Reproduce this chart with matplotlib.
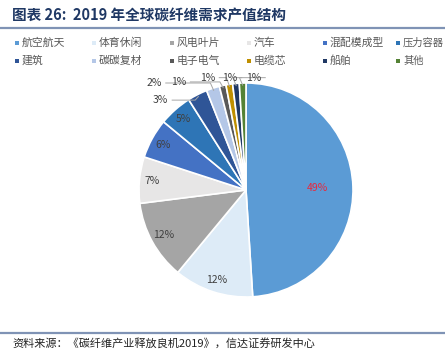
import numpy as np
import matplotlib
matplotlib.use('Agg')
import matplotlib.pyplot as plt
from matplotlib.patches import Rectangle

plt.rcParams['font.family'] = ['Noto Sans CJK SC', 'DejaVu Sans']

# ── data ──────────────────────────────────────────────────────────────
categories = ['航空航天', '体育休闲', '风电叶片', '汽车', '混配模成型', '压力容器',
              '建筑', '碳碳复材', '电子电气', '电缆芯', '船舶', '其他']
shares = [49, 12, 12, 7, 6, 5, 3, 2, 1, 1, 1, 1]
colors = ['#5B9BD5', '#DDEBF7', '#A5A5A5', '#E7E6E6', '#4472C4', '#2E75B6',
          '#2F5597', '#B4C7E7', '#595959', '#BF8F00', '#203864', '#548235']

W, H = 445, 353
fig = plt.figure(figsize=(W / 100, H / 100), dpi=100)

# overlay axes in pixel coords for title, rules, legend, footer
ov = fig.add_axes([0, 0, 1, 1])
ov.set_xlim(0, W)
ov.set_ylim(H, 0)
ov.axis('off')

ov.text(12, 15, '图表 26:  2019 年全球碳纤维需求产值结构', fontsize=10.5,
        fontweight='bold', color='#1F3864', va='center', ha='left')
ov.plot([0, W], [27.5, 27.5], color='#7F93B5', lw=1.6)
ov.plot([0, W], [332.5, 332.5], color='#7F93B5', lw=1.6)
ov.text(12, 344, '资料来源：《碳纤维产业释放良机2019》，信达证券研发中心', fontsize=8,
        style='italic', color='#222222', va='center', ha='left')

# ── legend (2 rows x 6 cols) ──────────────────────────────────────────
col_x = [17, 94, 172, 249, 325, 398]
row_y = [43, 61]
for i, (name, c) in enumerate(zip(categories, colors)):
    r, k = divmod(i, 6)
    x, y = col_x[k], row_y[r]
    ov.add_patch(Rectangle((x - 2, y - 2), 4, 4, facecolor=c, edgecolor='none'))
    ov.text(x + 5, y, name, fontsize=7.8 if k < 5 else 7.4, color='#595959',
            va='center', ha='left', clip_on=False)

# ── pie ───────────────────────────────────────────────────────────────
cx, cy, R = 246, 190, 107
ax = fig.add_axes([(cx - R) / W, (H - cy - R) / H, 2 * R / W, 2 * R / H])
wedges, _ = ax.pie(shares, colors=colors, startangle=90, counterclock=False,
                   radius=1.0, wedgeprops=dict(edgecolor='white', linewidth=1.2))
ax.set_xlim(-1, 1)
ax.set_ylim(-1, 1)
ax.set_aspect('equal')
ax.axis('off')

# inside labels
for i, w in enumerate(wedges[:6]):
    mid = np.radians((w.theta1 + w.theta2) / 2)
    rr = 0.67 if i == 0 else 0.88
    ax.text(rr * np.cos(mid), rr * np.sin(mid), f'{shares[i]}%', fontsize=7.5,
            ha='center', va='center', color='#E8283C' if i == 0 else '#404040')

# outside labels with leader lines
out_pos = [(-0.80, 0.84), (-0.86, 1.00), (-0.63, 1.01), (-0.36, 1.05),
           (-0.15, 1.05), (0.07, 1.05)]
for j, (lx, ly) in enumerate(out_pos):
    i = 6 + j
    w = wedges[i]
    mid = np.radians((w.theta1 + w.theta2) / 2)
    ex, ey = np.cos(mid), np.sin(mid)
    ax.text(lx, ly, f'{shares[i]}%', fontsize=7.5, ha='center', va='center',
            color='#404040', clip_on=False)
    sx = lx + 0.11
    ax.plot([sx, ex * 0.98 - 0.03, ex * 0.98], [ly, ly, ey * 0.98],
            color='#A6A6A6', lw=0.7, clip_on=False)

fig.savefig('out.png', dpi=100)
